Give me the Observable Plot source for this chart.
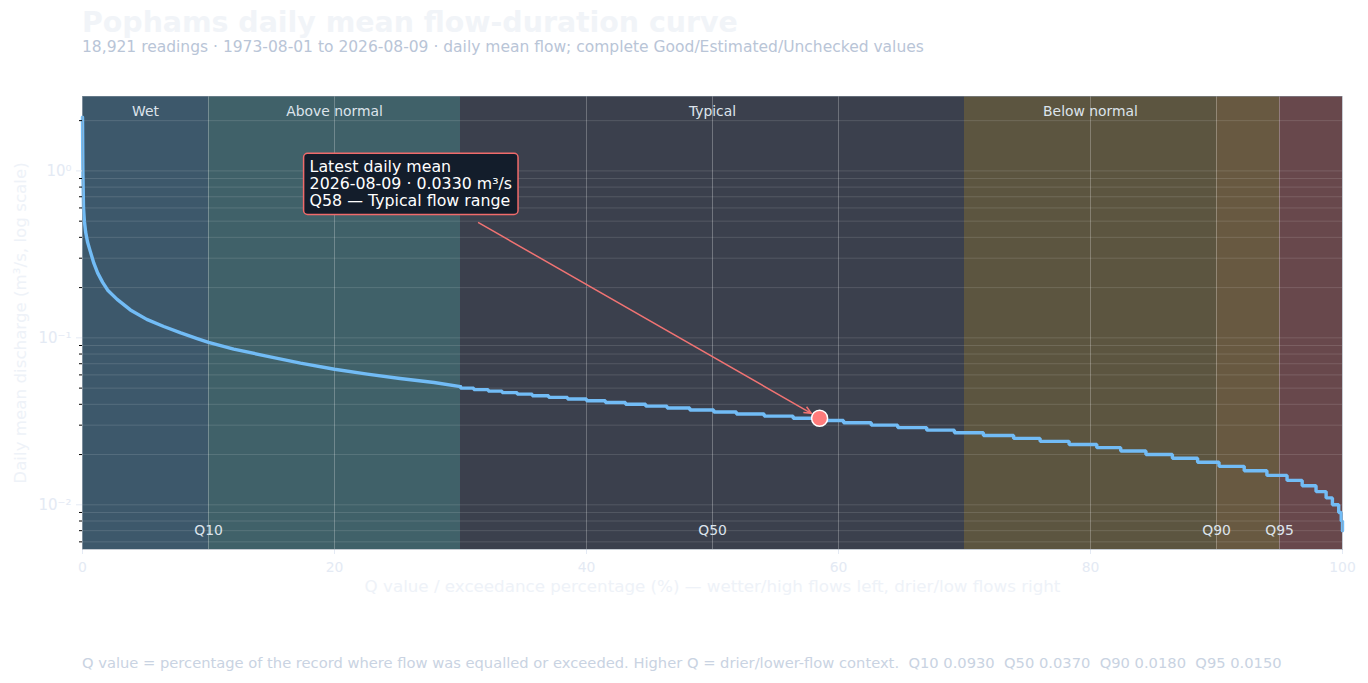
<!DOCTYPE html>
<html><head><meta charset="utf-8">
<script src="https://cdn.jsdelivr.net/npm/d3@7"></script>
<script src="https://cdn.jsdelivr.net/npm/@observablehq/plot@0.6"></script>
<style>
html,body{margin:0;padding:0;background:#fff;width:1368px;height:683px;overflow:hidden;font-family:"DejaVu Sans",sans-serif;}
#title{position:absolute;left:82px;top:8.5px;font-size:28.4px;font-weight:bold;color:#f1f4f8;white-space:nowrap;line-height:1}
#subtitle{position:absolute;left:82px;top:40.2px;font-size:15.5px;color:#b9c5d7;white-space:nowrap;line-height:1}
#chart{position:absolute;left:0;top:60px;}
#footer{position:absolute;left:82px;top:655px;font-size:14.7px;color:#c9d3e2;white-space:pre;line-height:1.1}
</style></head><body>
<div id="title"></div><div id="subtitle"></div><div id="chart"></div><div id="footer"></div>
<script>
// ---- text ----
const titleText = "Pophams daily mean flow-duration curve";
const readingsCount = 18921;
const recordStart = "1973-08-01";
const recordEnd = "2026-08-09";
const subtitleTail = "daily mean flow; complete Good/Estimated/Unchecked values";
const xLabel = "Q value / exceedance percentage (%) \u2014 wetter/high flows left, drier/low flows right";
const yLabel = "Daily mean discharge (m\u00b3/s, log scale)";
const footerLead = "Q value = percentage of the record where flow was equalled or exceeded. Higher Q = drier/lower-flow context.";

// ---- flow regime bands ----
const bandStart = [0, 10, 30, 70, 90, 95];
const bandEnd = [10, 30, 70, 90, 95, 100];
const bandLabel = ["Wet", "Above normal", "Typical", "Below normal", "", ""];
const bandColor = ["#3d586b", "#406169", "#3b404d", "#5c5540", "#685941", "#68484c"];

// ---- Q reference values ----
const qMarks = [10, 50, 90, 95];
const qMarkLabels = ["Q10", "Q50", "Q90", "Q95"];
const qMarkValues = [0.0930, 0.0370, 0.0180, 0.0150];

// ---- flow-duration curve: high-flow part ----
const headQ = [0, 0.03, 0.08, 0.15, 0.25, 0.4, 0.6, 0.9, 1.2, 1.6, 2.0, 2.75, 3.8, 5.1, 6.45, 7.8, 9.1, 10, 12, 14.7, 17.3, 20, 22.6, 25.2, 27.9, 30];
const headFlow = [2.1, 1.0, 0.6, 0.5, 0.43, 0.375, 0.333, 0.28, 0.245, 0.215, 0.193, 0.170, 0.147, 0.129, 0.117, 0.107, 0.099, 0.094, 0.0856, 0.0775, 0.0706, 0.0649, 0.0606, 0.0571, 0.054, 0.051];

// ---- flow-duration curve: stepped part (Q where each 0.001 level starts) ----
const stepQ = [30.0, 31.05, 32.2, 33.3, 34.5, 35.7, 37.0, 38.5, 40.0, 41.5, 43.1, 44.7, 46.4, 48.2, 50.1, 51.9, 54.1, 56.4, 58.6, 60.4, 62.6, 64.7, 67.0, 69.2, 71.5, 73.9, 76.0, 78.3, 80.5, 82.4, 84.4, 86.5, 88.5, 90.2, 92.2, 94.0, 95.6, 96.8, 97.9, 98.7, 99.2, 99.7, 99.9, 100];
const stepFlow = [0.050, 0.049, 0.048, 0.047, 0.046, 0.045, 0.044, 0.043, 0.042, 0.041, 0.040, 0.039, 0.038, 0.037, 0.036, 0.035, 0.034, 0.033, 0.032, 0.031, 0.030, 0.029, 0.028, 0.027, 0.026, 0.025, 0.024, 0.023, 0.022, 0.021, 0.020, 0.019, 0.018, 0.017, 0.016, 0.015, 0.014, 0.013, 0.012, 0.011, 0.010, 0.009, 0.008, 0.007];

// ---- latest reading ----
const latestDate = "2026-08-09";
const latestFlow = 0.0330;
const latestQ = 58.5;
const latestQLabel = "Q58";
const latestRegime = "Typical";

// ---- axes ----
const xTicks = [0, 20, 40, 60, 80, 100];
const yMajor = [1, 0.1, 0.01];
const yMajorLabels = ["10\u2070", "10\u207b\u00b9", "10\u207b\u00b2"];
const yDomain = [0.0054, 2.79];

// ---- build ----
document.getElementById("title").textContent = titleText;
document.getElementById("subtitle").textContent =
  `${d3.format(",")(readingsCount)} readings \u00b7 ${recordStart} to ${recordEnd} \u00b7 ${subtitleTail}`;
document.getElementById("footer").textContent =
  footerLead + qMarkLabels.map((l, i) => `  ${l} ${qMarkValues[i].toFixed(4)}`).join("");

const bands = bandStart.map((s, i) => ({x1: s, x2: bandEnd[i], label: bandLabel[i], color: bandColor[i]}));
const head = headQ.map((q, i) => ({q, flow: headFlow[i]}));
const steps = [head[head.length - 1], ...stepQ.map((q, i) => ({q, flow: stepFlow[i]}))];
const latest = {q: latestQ, flow: latestFlow};
const allYTicks = d3.scaleLog().domain(yDomain).ticks();
const minorTicks = allYTicks.filter(t => !yMajor.some(m => Math.abs(m - t) < 1e-12));
const annotation = `Latest daily mean\n${latestDate} \u00b7 ${latestFlow.toFixed(4)} m\u00b3/s\n${latestQLabel} \u2014 ${latestRegime} flow range`;

const lineColor = "#72bcf6";
const labelColor = "#dde4ec";
const faint = "#e4eaf4";

const chart = Plot.plot({
  width: 1368, height: 560,
  marginLeft: 82, marginRight: 26, marginTop: 36, marginBottom: 71,
  style: {fontFamily: "DejaVu Sans", fontSize: "13.9px", background: "transparent", overflow: "visible"},
  x: {domain: [0, 100]},
  y: {type: "log", domain: yDomain},
  color: {type: "identity"},
  marks: [
    Plot.rect(bands, {x1: "x1", x2: "x2", fill: "color"}),
    Plot.gridY({ticks: allYTicks, stroke: "#ffffff", strokeOpacity: 0.13, strokeWidth: 1}),
    Plot.gridX({ticks: xTicks, stroke: "#ffffff", strokeOpacity: 0.25, strokeWidth: 1}),
    Plot.ruleX(qMarks, {stroke: "#ffffff", strokeOpacity: 0.28, strokeWidth: 1}),
    Plot.text(bands.filter(d => d.label), {x: d => (d.x1 + d.x2) / 2, text: "label", frameAnchor: "top", dy: 10, fill: labelColor, fontSize: 13.9}),
    Plot.text(qMarks, {x: d => d, text: (d, i) => qMarkLabels[i], frameAnchor: "bottom", dy: -15, fill: labelColor, fontSize: 13.9}),
    Plot.line(head, {x: "q", y: "flow", stroke: lineColor, strokeWidth: 3.4, strokeLinejoin: "round"}),
    Plot.line(steps, {x: "q", y: "flow", curve: "step-after", stroke: lineColor, strokeWidth: 3.4, strokeLinejoin: "miter"}),
    Plot.dot([latest], {x: "q", y: "flow", r: 8, fill: "#ff7b7b", stroke: "#ffffff", strokeWidth: 1.5}),
    Plot.text([latest], {x: "q", y: "flow", text: () => annotation, dx: -510, dy: -258, textAnchor: "start", lineAnchor: "top", lineHeight: 1.08, fill: "#ffffff", fontSize: 15.8}),
    Plot.axisX({ticks: xTicks, tickSize: 5, tickPadding: 8, stroke: faint, fill: faint, label: null, fontSize: 13.9}),
    Plot.axisY({ticks: minorTicks, tickSize: 3, stroke: "#000000", tickFormat: () => "", label: null}),
    Plot.axisY({ticks: yMajor, tickSize: 6, tickPadding: 5, stroke: faint, fill: faint, tickFormat: (d) => yMajorLabels[yMajor.indexOf(d)], label: null, fontSize: 15}),
    Plot.text([xLabel], {text: d => d, frameAnchor: "bottom", dy: 42, fill: "#eef2f8", fontSize: 16.7}),
    Plot.text([yLabel], {text: d => d, frameAnchor: "left", textAnchor: "middle", dx: -62, rotate: -90, fill: "#eef2f8", fontSize: 16.7}),
    Plot.frame({stroke: "#8d9aa8", strokeOpacity: 0.5})
  ]
});
document.getElementById("chart").appendChild(chart);

// ---- annotation box and arrow ----
const NS = "http://www.w3.org/2000/svg";
const textGroups = Array.from(chart.querySelectorAll('g[aria-label="text"]'));
const annG = textGroups.find(g => g.textContent.includes("Latest daily mean"));
const annText = annG.querySelector("text");
const dotG = chart.querySelector('g[aria-label="dot"]');
const svgRect = chart.getBoundingClientRect();
const tr = annText.getBoundingClientRect();
const padX = 6, padY = 4;
const box = {x: tr.left - svgRect.left - padX, y: tr.top - svgRect.top - padY, w: tr.width + 2 * padX, h: tr.height + 2 * padY};
const rect = document.createElementNS(NS, "rect");
rect.setAttribute("x", box.x); rect.setAttribute("y", box.y);
rect.setAttribute("width", box.w); rect.setAttribute("height", box.h);
rect.setAttribute("rx", 4); rect.setAttribute("fill", "#131d2b");
rect.setAttribute("stroke", "#f06b6b"); rect.setAttribute("stroke-width", 1.5);
annG.parentNode.insertBefore(rect, annG);

const px = chart.scale("x").apply(latest.q), py = chart.scale("y").apply(latest.flow);
const cx = box.x + box.w / 2, cy = box.y + box.h / 2;
const ddx = px - cx, ddy = py - cy, len = Math.hypot(ddx, ddy);
const ux = ddx / len, uy = ddy / len;
const tEdge = Math.min((box.w / 2) / Math.abs(ux), (box.h / 2) / Math.abs(uy));
const sx = cx + ux * (tEdge + 16), sy = cy + uy * (tEdge + 16);
const ex = px - ux * 9, ey = py - uy * 9;
const ang = Math.atan2(uy, ux), hl = 8, ha = 0.42;
const arrowPath = `M${sx},${sy}L${ex},${ey}M${ex - hl * Math.cos(ang - ha)},${ey - hl * Math.sin(ang - ha)}L${ex},${ey}L${ex - hl * Math.cos(ang + ha)},${ey - hl * Math.sin(ang + ha)}`;
const path = document.createElementNS(NS, "path");
path.setAttribute("d", arrowPath); path.setAttribute("fill", "none");
path.setAttribute("stroke", "#f07373"); path.setAttribute("stroke-width", 1.5);
dotG.parentNode.insertBefore(path, dotG);
</script>
</body></html>
